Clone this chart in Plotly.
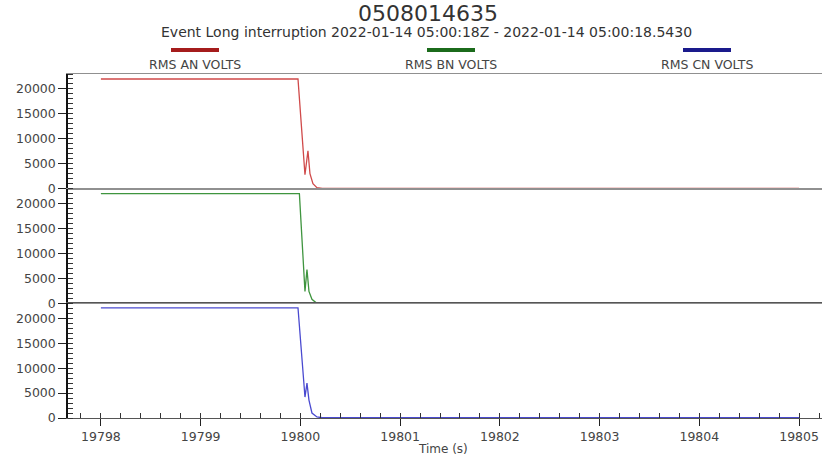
import plotly.graph_objects as go
from plotly.subplots import make_subplots

# ---- data ----
t_an = [19798.0, 19799.976, 19800.046, 19800.076, 19800.096, 19800.126, 19800.166, 19800.22, 19805.0]
v_an = [22000, 22000, 2800, 7600, 3000, 1000, 200, 60, 60]

t_bn = [19798.0, 19799.99, 19800.046, 19800.066, 19800.086, 19800.116, 19800.156, 19800.22, 19805.0]
v_bn = [22000, 22000, 2400, 6800, 2400, 800, 150, 60, 60]

t_cn = [19798.0, 19799.976, 19800.046, 19800.066, 19800.086, 19800.116, 19800.166, 19800.22, 19805.0]
v_cn = [22100, 22100, 4200, 7000, 3600, 1000, 200, 60, 60]

series_names = ["RMS AN VOLTS", "RMS BN VOLTS", "RMS CN VOLTS"]
series_colors = ["#d04a4a", "#3f953f", "#4a4ad0"]
swatch_colors = ["#a51c1c", "#1b6b1b", "#1a1a8c"]

title_text = "0508014635"
subtitle_text = "Event Long interruption 2022-01-14 05:00:18Z - 2022-01-14 05:00:18.5430"
x_title = "Time (s)"

x_ticks = [19798, 19799, 19800, 19801, 19802, 19803, 19804, 19805]
x_tick_labels = ["19798", "19799", "19800", "19801", "19802", "19803", "19804", "19805"]
y_ticks = [0, 5000, 10000, 15000, 20000]
y_tick_labels = ["0", "5000", "10000", "15000", "20000"]

# ---- figure ----
W, H = 825, 459
ML, MR, MT, MB = 68, 3, 74, 41
PW, PH = W - ML - MR, H - MT - MB

def px_x(px):
    return (px - ML) / PW

def px_y(py):
    return (H - MB - py) / PH

fig = make_subplots(rows=3, cols=1, shared_xaxes=True, vertical_spacing=0)

for i, (t, v) in enumerate([(t_an, v_an), (t_bn, v_bn), (t_cn, v_cn)]):
    fig.add_trace(go.Scatter(x=t, y=v, mode="lines", name=series_names[i],
                             line=dict(color=series_colors[i], width=1.3),
                             showlegend=False), row=i + 1, col=1)

font_fam = "DejaVu Sans"
for r in range(1, 4):
    fig.update_yaxes(row=r, col=1, range=[0, 23000], tickvals=y_ticks, ticktext=y_tick_labels,
                     ticks="outside", ticklen=8, tickwidth=1, tickcolor="#222",
                     showline=True, linecolor="#111", linewidth=1.5,
                     showgrid=False, zeroline=False, automargin=False,
                     tickfont=dict(family=font_fam, size=12.5, color="#444"),
                     minor=dict(dtick=1000, ticks="inside", ticklen=5, tickcolor="#333", showgrid=False))
    fig.update_xaxes(row=r, col=1, range=[19797.67, 19805.23],
                     showline=True, linecolor="#909090", linewidth=1, mirror=True,
                     showgrid=False, zeroline=False, automargin=False)

fig.update_xaxes(row=3, col=1, tickvals=x_ticks, ticktext=x_tick_labels, ticks="outside", ticklen=7,
                 tickcolor="#222", linecolor="#555",
                 tickfont=dict(family=font_fam, size=12.5, color="#444"),
                 minor=dict(dtick=0.2, ticks="inside", ticklen=5, tickcolor="#333", showgrid=False))

annotations = [
    dict(text=title_text, x=px_x(428), y=px_y(14), xref="paper", yref="paper", xanchor="center",
         showarrow=False, font=dict(family=font_fam, size=22, color="#333"), yanchor="middle"),
    dict(text=subtitle_text, x=px_x(426), y=px_y(32), xref="paper", yref="paper", xanchor="center",
         showarrow=False, font=dict(family=font_fam, size=14, color="#333"), yanchor="middle"),
    dict(text=x_title, x=px_x(443), y=px_y(449), xref="paper", yref="paper", xanchor="center",
         showarrow=False, font=dict(family=font_fam, size=12, color="#444"), yanchor="middle"),
]
shapes = []
legend_cx = [195, 451, 707]
for i in range(3):
    cx = legend_cx[i]
    shapes.append(dict(type="line", xref="paper", yref="paper",
                       x0=px_x(cx - 24), x1=px_x(cx + 24), y0=px_y(50), y1=px_y(50),
                       line=dict(color=swatch_colors[i], width=4)))
    annotations.append(dict(text=series_names[i], x=px_x(cx), y=px_y(65), xref="paper", yref="paper",
                            xanchor="center", showarrow=False,
                            font=dict(family=font_fam, size=12.5, color="#444"),
                            yanchor="middle"))

fig.update_layout(width=W, height=H, margin=dict(l=ML, r=MR, t=MT, b=MB),
                  plot_bgcolor="white", paper_bgcolor="white",
                  annotations=annotations, shapes=shapes, showlegend=False)

fig.write_html("out.html", config={"displayModeBar": False},
               post_script="document.body.style.margin='0';document.body.style.overflow='hidden';")
